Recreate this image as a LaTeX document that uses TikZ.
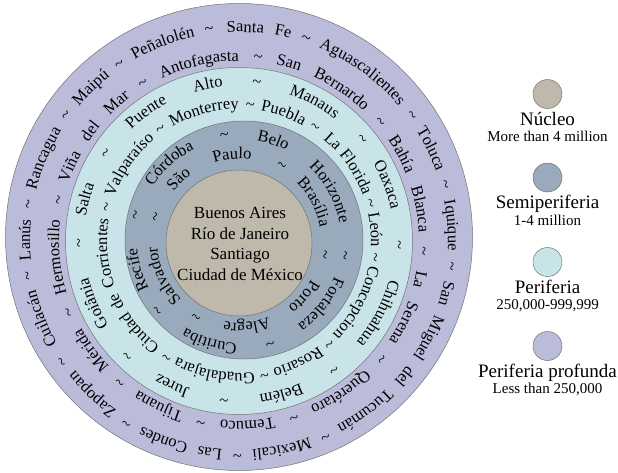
\documentclass[tikz,border=0pt]{standalone}
\usepackage{fontspec}
\setmainfont{Liberation Serif}
\usetikzlibrary{positioning,decorations.text}

\definecolor{nuc}{HTML}{BEB9AA}
\definecolor{semi}{HTML}{98AABB}
\definecolor{peri}{HTML}{C8E4E8}
\definecolor{prof}{HTML}{BABCDA}
\newcommand{\tlde}{\textasciitilde}

\begin{document}
\fontsize{16.5}{19}\selectfont
\begin{tikzpicture}[x=1pt, y=1pt,
    disc/.style={circle, draw=black!55, line width=.5pt, inner sep=0pt},
    key/.style={disc, minimum size=29pt},
    ttl/.style={inner sep=0pt, text height=13pt, text depth=4pt, font=\fontsize{19}{22}\selectfont},
    sub/.style={inner sep=0pt, text height=11pt, text depth=3pt, font=\fontsize{15}{18}\selectfont},
    rt/.style={decorate, decoration={text along path, text={#1}, text align={fit to path stretching spaces}}}]
    \useasboundingbox (-239,-235) rectangle (379,237);
    \coordinate (O) at (0,0);
    \coordinate (T) at (0,-4);

    % rings
    \node[disc, fill=prof, minimum size=467pt] (profRing) at (O) {};
    \node[disc, fill=peri, minimum size=347pt] (periRing) at (0,-4) {};
    \node[disc, fill=semi, minimum size=238pt] (semiRing) at (5,-3) {};
    \node[disc, fill=nuc, minimum size=146pt] (nucRing) at (0,-6) {};
    \node[align=center, font=\fontsize{17}{20.7}\selectfont] (nucCities) at (1,-7)
        {Buenos Aires\\Río de Janeiro\\Santiago\\Ciudad de México};

    % city names, clockwise
    \path[rt={Cuilacán {\tlde} Lanús {\tlde} Rancagua {\tlde} Maipú {\tlde} Peñalolén {\tlde}}]
        (T) ++(209.5:209) arc[start angle=209.5, end angle=96.8, radius=209];
    \path[rt={Santa Fe {\tlde} Aguascalientes {\tlde} Toluca {\tlde} Iquique {\tlde} San Miguel del Tucumán {\tlde} Mexicali {\tlde} Las Condes {\tlde} Zapopan {\tlde}}]
        (T) ++(93.3:209) arc[start angle=93.3, end angle=-147, radius=209];
    \path[rt={Hermosillo {\tlde} Viña del Mar {\tlde} Antofagasta {\tlde}}]
        (T) ++(196.9:180) arc[start angle=196.9, end angle=82.7, radius=180];
    \path[rt={San Bernardo {\tlde} Bahía Blanca {\tlde} La Serena {\tlde} Querétaro {\tlde} Temuco {\tlde} Tijuana {\tlde} Mérida {\tlde}}]
        (T) ++(78.2:180) arc[start angle=78.2, end angle=-158.6, radius=180];
    \path[rt={Salta {\tlde} Puente Alto {\tlde} Manaus {\tlde}}]
        (T) ++(171:155) arc[start angle=171, end angle=37.9, radius=155];
    \path[rt={Oaxaca {\tlde} Chihuahua {\tlde} Belém {\tlde} Jurez {\tlde} Goiânia {\tlde}}]
        (T) ++(29.9:155) arc[start angle=29.9, end angle=-181, radius=155];
    \path[rt={Ciudad de Corrientes {\tlde} Valparaíso {\tlde} Monterrey {\tlde} Puebla {\tlde}}]
        (T) ++(233.2:132) arc[start angle=233.2, end angle=54.4, radius=132];
    \path[rt={La Florida {\tlde} León {\tlde} Concepcion {\tlde} Rosario {\tlde} Guadalajara {\tlde}}]
        (T) ++(50.4:132) arc[start angle=50.4, end angle=-123.8, radius=132];
    \path[rt={Recife {\tlde} Córdoba {\tlde} Belo Horizonte {\tlde}}]
        (T) ++(208:102) arc[start angle=208, end angle=-10.6, radius=102];
    \path[rt={Fortaleza {\tlde} Curitiba {\tlde}}]
        (T) ++(-20.6:102) arc[start angle=-20.6, end angle=-142, radius=102];
    \path[rt={Salvador {\tlde} São Paulo {\tlde}}]
        (T) ++(225.4:82) arc[start angle=225.4, end angle=57.5, radius=82];
    \path[rt={Brasília {\tlde} Porto Alegre {\tlde}}]
        (T) ++(45.5:82) arc[start angle=45.5, end angle=-122.6, radius=82];

    % legend
    \node[key, fill=nuc] (nucKey) at (308.5,143) {};
    \node[ttl, below=3.5pt of nucKey] (nucName) {Núcleo};
    \node[sub, below=1pt of nucName] (nucSize) {More than 4 million};
    \node[key, fill=semi] (semiKey) at (308.5,59.5) {};
    \node[ttl, below=3.5pt of semiKey] (semiName) {Semiperiferia};
    \node[sub, below=1pt of semiName] (semiSize) {1-4 million};
    \node[key, fill=peri] (periKey) at (308.5,-25) {};
    \node[ttl, below=3.5pt of periKey] (periName) {Periferia};
    \node[sub, below=1pt of periName] (periSize) {250,000-999,999};
    \node[key, fill=prof] (profKey) at (308.5,-109) {};
    \node[ttl, below=3.5pt of profKey] (profName) {Periferia profunda};
    \node[sub, below=1pt of profName] (profSize) {Less than 250,000};
\end{tikzpicture}
\end{document}
